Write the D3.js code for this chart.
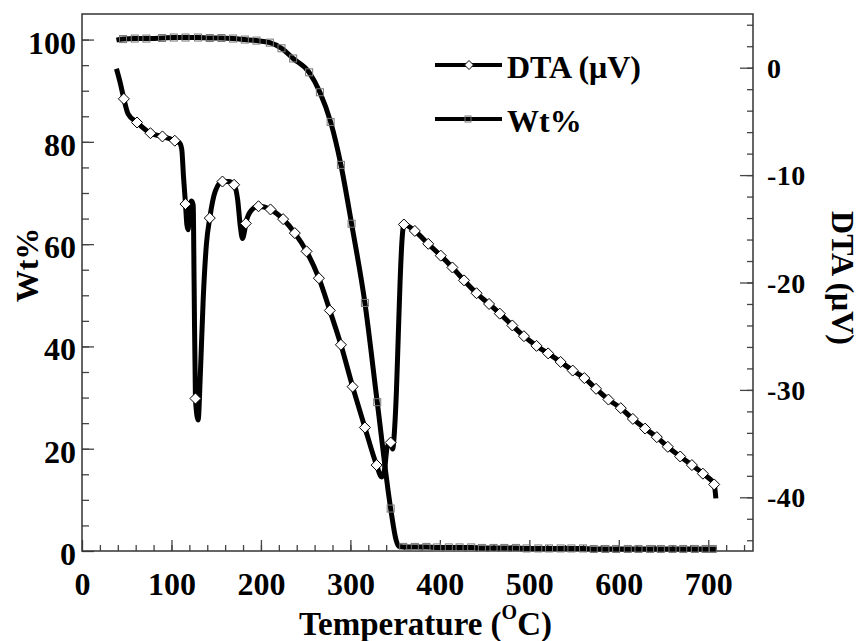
<!DOCTYPE html>
<html>
<head>
<meta charset="utf-8">
<script src="https://cdn.jsdelivr.net/npm/d3@7"></script>
<style>
    body { margin: 0; background: #fff; }
    svg text { font-family: "Liberation Serif", "Times New Roman", serif; font-weight: bold; fill: #000; }
</style>
</head>
<body>
<div id="chart"></div>
<script>
// temperature (C) / DTA (uV) where a diamond marker sits
const dtaMarkers = [
    [46.8, -2.9], [61.5, -5.1], [76.5, -6.1], [89.9, -6.4], [103.7, -6.8], [115.7, -12.7],
    [126.8, -30.8], [142.8, -14.0], [157, -10.6], [170, -10.9], [183.1, -14.5], [197.3, -12.9],
    [210.7, -13.2], [224.8, -14.1], [237.9, -15.4], [251, -17.1], [264.8, -19.6], [277, -22.6],
    [289.4, -25.8], [302.5, -29.7], [316.2, -33.5], [329.3, -37.0], [345, -34.9], [359.8, -14.6],
    [372, -15.2], [387, -16.4], [401, -17.5], [414, -18.6], [427, -19.8], [441, -21.0],
    [455, -22.0], [467, -22.9], [481, -24.0], [494, -25.0], [508, -25.9], [521, -26.6],
    [535, -27.4], [548.5, -28.2], [561.5, -28.9], [574.6, -29.9], [588.4, -30.9], [602.2, -31.7],
    [615.7, -32.7], [629.4, -33.6], [642.5, -34.4], [654.8, -35.3], [668.6, -36.2], [681.7, -37.0],
    [694, -37.8], [706.6, -38.8]
];
// extra points of the DTA trace between markers (peaks and dips)
const dtaBends = [
    [38.5, -0.1], [43, -1.5], [51.5, -4.3], [109, -7.0], [111.5, -7.6], [113.5, -10.2],
    [117.2, -14.6], [118.6, -15.1], [120.3, -13.2], [122.5, -12.4], [124.3, -12.8], [125.3, -20],
    [129.8, -32.8], [132.3, -28.5], [135.5, -21.5], [139, -16.5], [149, -11.5], [164, -10.6],
    [174, -12.3], [177, -14.8], [179.4, -15.9], [181.5, -15.3], [189, -13.3], [334.9, -38.1],
    [338, -37.5], [341.2, -35.3], [347.2, -35.5], [349.5, -33.5], [351.5, -30], [353.5, -25],
    [355.5, -20], [357.5, -16.3], [708.5, -40.1]
];

// temperature (C) / weight % where a square marker sits
const wtMarkers = [
    [45.9, 100.1], [59, 100.2], [72, 100.2], [89.5, 100.3], [102.6, 100.4], [115.7, 100.4],
    [129.7, 100.4], [142.8, 100.3], [155.9, 100.3], [168.9, 100.2], [182, 100.0], [195, 99.8],
    [210, 99.4], [223, 98.3], [236, 96.3], [253.9, 93.6], [265.9, 89.7], [277.9, 83.9],
    [289.4, 75.5], [301.3, 64.0], [316.2, 48.5], [330, 29.1], [345, 8.3], [359, 0.8],
    [372, 0.8], [385, 0.8], [397, 0.7], [410, 0.7], [422, 0.7], [435, 0.7], [447, 0.6],
    [460, 0.6], [472, 0.6], [485, 0.6], [497, 0.5], [510, 0.5], [522, 0.5], [535, 0.5],
    [547, 0.5], [560, 0.5], [572, 0.4], [585, 0.4], [597, 0.4], [610, 0.4], [622, 0.4],
    [635, 0.4], [647, 0.4], [660, 0.4], [672, 0.4], [685, 0.4], [697, 0.4], [705, 0.4]
];
const wtBends = [[38.5, 99.9], [351, 2.2], [354, 0.9], [709.6, 0.4]];

const tempTicks = [0, 100, 200, 300, 400, 500, 600, 700];
const wtTicks = [0, 20, 40, 60, 80, 100];
const dtaTicks = [0, -10, -20, -30, -40];

const legendItems = [
    { label: "DTA (μV)", marker: "diamond" },
    { label: "Wt%", marker: "square" }
];

const width = 861, height = 641;
const box = { left: 82, right: 753, top: 14, bottom: 551 };

const svg = d3.select("#chart").append("svg")
    .attr("width", width)
    .attr("height", height);

const x = d3.scaleLinear().domain([0, 750]).range([box.left, box.right]);
const yWt = d3.scaleLinear().domain([0, 105]).range([box.bottom, box.top]);
const yDta = d3.scaleLinear().domain([-45, 5]).range([box.bottom, box.top]);

function styleAxis(g, size) {
    g.select(".domain").remove();
    g.selectAll("line").attr("stroke", "#444").attr("stroke-width", 1.3);
    g.selectAll("text").style("font-size", size + "px");
}

// minor ticks first, then the labelled ones
svg.append("g").attr("transform", `translate(0,${box.bottom})`)
    .call(d3.axisBottom(x).tickValues(d3.range(20, 741, 20)).tickSize(-6).tickFormat(""))
    .call(styleAxis, 32);
svg.append("g").attr("transform", `translate(0,${box.bottom})`)
    .call(d3.axisBottom(x).tickValues(tempTicks).tickSize(-11).tickPadding(21))
    .call(styleAxis, 32);

svg.append("g").attr("transform", `translate(${box.left},0)`)
    .call(d3.axisLeft(yWt).tickValues(d3.range(5, 105, 5)).tickSize(-7).tickFormat(""))
    .call(styleAxis, 32);
svg.append("g").attr("transform", `translate(${box.left},0)`)
    .call(d3.axisLeft(yWt).tickValues(wtTicks).tickSize(-12).tickPadding(6))
    .call(styleAxis, 32)
    .call(g => g.selectAll("text").attr("dy", "0.42em"));

svg.append("g").attr("transform", `translate(${box.right},0)`)
    .call(d3.axisRight(yDta).tickValues(d3.range(-44, 5, 2)).tickSize(-6).tickFormat(""))
    .call(styleAxis, 28);
svg.append("g").attr("transform", `translate(${box.right},0)`)
    .call(d3.axisRight(yDta).tickValues(dtaTicks).tickSize(-13).tickPadding(14)
        .tickFormat(d => String(d)))
    .call(styleAxis, 28)
    .call(g => g.selectAll("text").attr("dy", "0.34em").attr("letter-spacing", "0.5px"));

svg.append("rect")
    .attr("x", box.left).attr("y", box.top)
    .attr("width", box.right - box.left).attr("height", box.bottom - box.top)
    .attr("fill", "none").attr("stroke", "#333").attr("stroke-width", 1.5);

const byTemp = (a, b) => a[0] - b[0];
const wtLine = wtMarkers.concat(wtBends).sort(byTemp);
const dtaLine = dtaMarkers.concat(dtaBends).sort(byTemp);

const lineWt = d3.line().x(d => x(d[0])).y(d => yWt(d[1])).curve(d3.curveMonotoneX);
const lineDta = d3.line().x(d => x(d[0])).y(d => yDta(d[1])).curve(d3.curveMonotoneX);

svg.append("path").datum(wtLine)
    .attr("d", lineWt)
    .attr("fill", "none").attr("stroke", "#000").attr("stroke-width", 5)
    .attr("stroke-linejoin", "round");
svg.append("path").datum(dtaLine)
    .attr("d", lineDta)
    .attr("fill", "none").attr("stroke", "#000").attr("stroke-width", 5)
    .attr("stroke-linejoin", "round");

const diamond = r => `M0,${-r}L${r},0L0,${r}L${-r},0Z`;

svg.append("g").selectAll("rect").data(wtMarkers).join("rect")
    .attr("x", d => x(d[0]) - 3.5).attr("y", d => yWt(d[1]) - 3.5)
    .attr("width", 7).attr("height", 7)
    .attr("fill", "none").attr("stroke", "#777").attr("stroke-width", 1);

svg.append("g").selectAll("path").data(dtaMarkers).join("path")
    .attr("transform", d => `translate(${x(d[0])},${yDta(d[1])})`)
    .attr("d", diamond(5.5))
    .attr("fill", "#fff").attr("stroke", "#000").attr("stroke-width", 1);

// legend
const legend = svg.append("g").attr("transform", "translate(435,65)");
const rows = legend.selectAll("g").data(legendItems).join("g")
    .attr("transform", (d, i) => `translate(0,${i * 54})`);
rows.append("line")
    .attr("x1", 0).attr("x2", 67)
    .attr("stroke", "#000").attr("stroke-width", 4);
rows.filter(d => d.marker === "diamond").append("path")
    .attr("transform", "translate(34,0)")
    .attr("d", diamond(4.5))
    .attr("fill", "#fff").attr("stroke", "#000").attr("stroke-width", 1);
rows.filter(d => d.marker === "square").append("rect")
    .attr("x", 30).attr("y", -3).attr("width", 6).attr("height", 6)
    .attr("fill", "none").attr("stroke", "#777").attr("stroke-width", 1);
rows.append("text")
    .attr("x", 72).attr("y", 13)
    .style("font-size", "32px")
    .text(d => d.label);

// axis titles
const xTitle = svg.append("text")
    .attr("x", (box.left + box.right) / 2 + 8).attr("y", 635)
    .attr("text-anchor", "middle")
    .style("font-size", "33px");
xTitle.append("tspan").text("Temperature (");
xTitle.append("tspan").attr("dy", -16).style("font-size", "20px").text("O");
xTitle.append("tspan").attr("dy", 16).text("C)");

svg.append("text")
    .attr("transform", "translate(38,265) rotate(-90)")
    .attr("text-anchor", "middle")
    .style("font-size", "32px")
    .text("Wt%");

svg.append("text")
    .attr("transform", "translate(832,278) rotate(90)")
    .attr("text-anchor", "middle")
    .style("font-size", "32px")
    .text("DTA (μV)");
</script>
</body>
</html>
